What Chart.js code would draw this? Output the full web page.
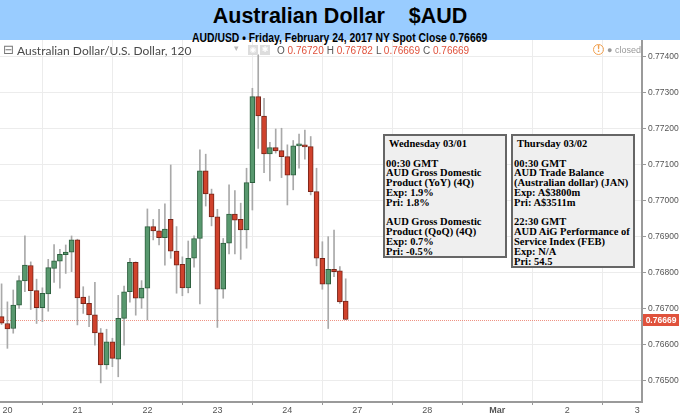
<!DOCTYPE html>
<html>
<head>
<meta charset="utf-8">
<script src="https://cdn.jsdelivr.net/npm/chart.js@4.4.1/dist/chart.umd.min.js"></script>
<style>
body{margin:0;width:680px;height:415px;position:relative;overflow:hidden;background:#fff;font-family:"Liberation Sans",Arial,sans-serif}
#head{position:absolute;left:0;top:0;width:680px;height:40px;background:#99ccff;text-align:center;color:#000}
#title{font:bold 21.5px "Liberation Sans",Arial,sans-serif;line-height:24px;padding-top:4px;white-space:pre}
#sub{display:inline-block;font:bold 12px "Liberation Sans",Arial,sans-serif;line-height:12px;transform:scaleX(0.865);transform-origin:center}
#wrap{position:absolute;left:0;top:40px;width:680px;height:375px}
.ov{position:absolute;white-space:nowrap}
#sym{left:3px;top:42px;font:13px "DejaVu Sans";color:#777}
#name{left:17px;top:43px;font:12px Lato,sans-serif;color:#4a4a4a}
#arrow{left:234px;top:43px;font:9px "DejaVu Sans";color:#bbb}
.ico{top:45px;width:10px;height:10px;background:#ddd;font:8px "DejaVu Sans";color:#fff;text-align:center;line-height:10px}
#ohlc{left:277px;top:45px;font:10px "Liberation Sans",Arial,sans-serif;color:#555}
#ohlc b{font-weight:normal;color:#e0523c;margin-right:3px}
#warn{left:593px;top:44px;width:9px;height:9px;border:1.5px solid #f0a050;border-radius:50%;font:bold 8px "DejaVu Sans";color:#f0a050;text-align:center;line-height:9px}
#closed{left:607px;top:45px;font:9px "Liberation Sans",Arial,sans-serif;color:#999}
.box{position:absolute;box-sizing:border-box;border:2px solid #666;background:#efefef;font:bold 10.5px "Liberation Serif","Times New Roman",serif;line-height:9.8px;color:#000;padding:3px 0 0 1px;white-space:nowrap}
.box .t{padding-left:3px}
</style>
</head>
<body>
<div id="head">
  <div id="title">Australian Dollar    $AUD</div>
  <div id="sub">AUD/USD • Friday, February 24, 2017 NY Spot Close 0.76669</div>
</div>
<div id="wrap"><canvas id="myChart" width="680" height="375"></canvas></div>
<div class="ov" id="sym">⊟</div>
<div class="ov" id="name">Australian Dollar/U.S. Dollar, 120</div>
<div class="ov" id="arrow">▾</div>
<div class="ov ico" style="left:248px">◉</div>
<div class="ov ico" style="left:260px">✱</div>
<div class="ov" id="ohlc">O <b>0.76720</b>H <b>0.76782</b>L <b>0.76669</b>C <b>0.76669</b></div>
<div class="ov" id="warn">!</div>
<div class="ov" id="closed">● closed</div>

<div class="box" style="left:383px;top:134px;width:124px;height:124px">
<div class="t">Wednesday 03/01</div><br>00:30 GMT<br>AUD Gross Domestic<br>Product (YoY) (4Q)<br>Exp: 1.9%<br>Pri: 1.8%<br><br>AUD Gross Domestic<br>Product (QoQ) (4Q)<br>Exp: 0.7%<br>Pri: -0.5%
</div>
<div class="box" style="left:511px;top:134px;width:124px;height:134px">
<div class="t">Thursday 03/02</div><br>00:30 GMT<br>AUD Trade Balance<br>(Australian dollar) (JAN)<br>Exp: A$3800m<br>Pri: A$3511m<br><br>22:30 GMT<br>AUD AiG Performance of<br>Service Index (FEB)<br>Exp: N/A<br>Pri: 54.5
</div>

<script>
// 2-hour candles, first one sits one slot before the Feb 20 gridline
const firstSlot = -1;
const opens = [0.76677,0.76658,0.76644,0.76709,0.76776,0.76819,0.76749,0.76702,0.76740,0.76811,
	0.76831,0.76849,0.76856,0.76890,0.76731,0.76714,0.76682,0.76632,0.76543,0.76607,
	0.76559,0.76672,0.76746,0.76828,0.76728,0.76756,0.76927,0.76915,0.76896,0.76947,
	0.76859,0.76822,0.76757,0.76839,0.76894,0.77082,0.77018,0.76954,0.76753,0.76881,
	0.76962,0.76947,0.76918,0.77049,0.77288,0.77234,0.77129,0.77146,0.77138,0.77121,
	0.77070,0.77151,0.77154,0.77149,0.77024,0.76839,0.76767,0.76808,0.76804,0.76720];
const highs = [0.76768,0.76718,0.76751,0.76790,0.76901,0.76829,0.76781,0.76757,0.76836,0.76877,
	0.76864,0.76876,0.76901,0.76892,0.76760,0.76734,0.76772,0.76644,0.76642,0.76617,
	0.76736,0.76762,0.76839,0.76829,0.76777,0.76976,0.76947,0.76975,0.76990,0.77098,
	0.76927,0.76843,0.76887,0.76901,0.77140,0.77128,0.77031,0.76975,0.76894,0.77043,
	0.77027,0.76992,0.77089,0.77311,0.77404,0.77283,0.77161,0.77198,0.77200,0.77154,
	0.77166,0.77184,0.77195,0.77177,0.77089,0.76885,0.76899,0.76917,0.76816,0.76782];
const lows = [0.76655,0.76589,0.76631,0.76700,0.76746,0.76697,0.76658,0.76663,0.76692,0.76772,
	0.76756,0.76797,0.76802,0.76654,0.76686,0.76649,0.76598,0.76493,0.76531,0.76538,
	0.76510,0.76598,0.76717,0.76681,0.76700,0.76668,0.76890,0.76876,0.76820,0.76839,
	0.76742,0.76735,0.76743,0.76814,0.76712,0.76984,0.76929,0.76647,0.76728,0.76851,
	0.76851,0.76836,0.76867,0.76973,0.77144,0.77077,0.77054,0.77131,0.77063,0.76987,
	0.77029,0.77089,0.77114,0.77015,0.76818,0.76753,0.76644,0.76788,0.76714,0.76669];
const closes = [0.76659,0.76643,0.76709,0.76777,0.76820,0.76749,0.76702,0.76742,0.76813,0.76832,
	0.76850,0.76856,0.76890,0.76729,0.76713,0.76682,0.76632,0.76543,0.76607,0.76561,
	0.76672,0.76746,0.76828,0.76728,0.76756,0.76927,0.76915,0.76896,0.76920,0.76859,
	0.76820,0.76757,0.76839,0.76894,0.77082,0.77018,0.76954,0.76753,0.76881,0.76962,
	0.76945,0.76918,0.77049,0.77288,0.77234,0.77129,0.77146,0.77137,0.77121,0.77070,
	0.77151,0.77154,0.77148,0.77024,0.76839,0.76767,0.76808,0.76802,0.76718,0.76669];

// day gridlines every 12 slots (weekend skipped)
const daySlots = [0, 12, 24, 36, 48, 60, 72, 84, 96, 108];
const dayLabels = ['20', '21', '22', '23', '24', '27', '28', 'Mar', '2', '3'];
const yMin = 0.7644, yMax = 0.77445, yStep = 0.001;
const lastClose = 0.76669;

const upColor = 'rgb(88,152,110)', upBorder = 'rgb(45,95,62)';
const downColor = 'rgb(208,66,44)', downBorder = 'rgb(120,36,24)';

var isUp = opens.map((o, k) => closes[k] >= o);
var bodies = opens.map((o, k) => ({x: firstSlot + k, y: [o, closes[k]]}));
var wicks = lows.map((l, k) => ({x: firstSlot + k, y: [l, highs[k]]}));

// dotted price line + red price tag on the axis
const priceLine = {
	id: 'priceLine',
	beforeDatasetsDraw(chart) {
		const {ctx, chartArea} = chart;
		const y = Math.round(chart.scales.y.getPixelForValue(lastClose)) + 0.5;
		ctx.save();
		ctx.strokeStyle = 'rgba(232,110,90,0.75)';
		ctx.lineWidth = 1;
		ctx.setLineDash([1, 1]);
		ctx.beginPath();
		ctx.moveTo(chartArea.left, y);
		ctx.lineTo(chartArea.right, y);
		ctx.stroke();
		ctx.restore();
	},
	afterDraw(chart) {
		const {ctx, chartArea} = chart;
		const y = Math.round(chart.scales.y.getPixelForValue(lastClose));
		const left = chartArea.right + 1;
		ctx.save();
		ctx.fillStyle = '#e0523c';
		ctx.fillRect(left, y - 6, chart.width - left - 1, 12);
		ctx.fillStyle = '#fff';
		ctx.font = 'bold 8.5px "Liberation Sans", Arial, sans-serif';
		ctx.textAlign = 'center';
		ctx.textBaseline = 'middle';
		ctx.fillText(lastClose.toFixed(5), (left + chart.width - 1) / 2, y + 0.5);
		ctx.restore();
	}
};

const ctx = document.getElementById('myChart');
const myChart = new Chart(ctx, {
	type: 'bar',
	data: {
		datasets: [{
			data: bodies,
			backgroundColor: isUp.map(u => u ? upColor : downColor),
			borderColor: isUp.map(u => u ? upBorder : downBorder),
			borderWidth: 1,
			borderSkipped: false,
			barThickness: 5,
			minBarLength: 2,
			grouped: false
		}, {
			data: wicks,
			backgroundColor: '#a9a9a9',
			borderWidth: 0,
			barThickness: 1,
			grouped: false
		}]
	},
	options: {
		responsive: false,
		animation: false,
		layout: {padding: 0},
		plugins: {legend: {display: false}, tooltip: {enabled: false}, title: {display: false}},
		scales: {
			x: {
				type: 'linear',
				min: -1.27,
				max: 108.8,
				offset: false,
				afterBuildTicks(scale) {
					scale.ticks = daySlots.map(v => ({value: v}));
				},
				afterFit(scale) {
					scale.height = 13;
					scale.paddingLeft = 0;
					scale.paddingRight = 0;
				},
				grid: {color: '#ececec', tickColor: '#999', tickLength: 3},
				border: {color: '#9a9a9a', width: 2},
				ticks: {
					autoSkip: false,
					maxRotation: 0,
					padding: 0,
					color: '#555',
					font: c => ({size: 9, family: '"Liberation Sans", Arial, sans-serif', weight: dayLabels[c.index] === 'Mar' ? 'bold' : 'normal'}),
					callback: (v, i) => dayLabels[i]
				}
			},
			y: {
				position: 'right',
				min: yMin,
				max: yMax,
				afterFit(scale) {
					scale.width = 38;
					scale.paddingTop = 0;
					scale.paddingBottom = 0;
				},
				grid: {color: '#ececec', tickColor: '#999', tickLength: 4},
				border: {color: '#9a9a9a', width: 2},
				ticks: {
					stepSize: yStep,
					includeBounds: false,
					padding: 2,
					color: '#555',
					font: {size: 8.5, family: '"Liberation Sans", Arial, sans-serif'},
					callback: v => v.toFixed(5)
				}
			}
		}
	},
	plugins: [priceLine]
});
</script>
</body>
</html>
